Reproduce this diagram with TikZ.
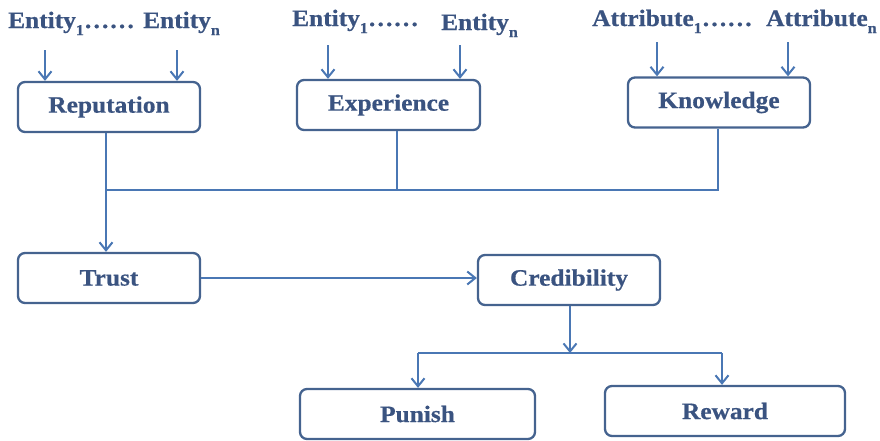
\documentclass[tikz,border=0pt]{standalone}
\usepackage{fontspec}
\setmainfont{Liberation Serif}[FakeStretch=1.08, BoldFeatures={FakeBold=0.6}]
\usetikzlibrary{arrows.meta}
\definecolor{boxline}{HTML}{45638F}
\definecolor{boxtext}{HTML}{3A5380}
\definecolor{wire}{HTML}{4A77B4}
\newcommand{\sbs}[1]{\raisebox{-0.3em}{\fontsize{15}{15}\selectfont #1}}
\tikzset{
  x=1pt, y=-1pt,
  block/.style={draw=boxline, line width=2.3pt, rounded corners=7pt,
    text=boxtext, font=\fontsize{23.5}{26}\selectfont\bfseries,
    minimum height=50pt, inner sep=0pt},
  lbl/.style={text=boxtext, font=\fontsize{23.5}{26}\selectfont\bfseries,
    inner sep=0pt, anchor=base west},
  wireline/.style={draw=wire, line width=2pt},
  arr/.style={wireline, -{Straight Barb[length=8pt,width=13pt,line width=2pt]}},
}
\begin{document}
\begin{tikzpicture}
\useasboundingbox (0,0) rectangle (880,440);

% top labels
\node[lbl] (l1a) at (8,28) {Entity\sbs{1}……};
\node[lbl] (l1b) at (143,28) {Entity\sbs{n}};
\node[lbl] (l2a) at (292,26) {Entity\sbs{1}……};
\node[lbl] (l2b) at (441,30) {Entity\sbs{n}};
\node[lbl] (l3a) at (592,26) {Attribute\sbs{1}……};
\node[lbl] (l3b) at (766,26) {Attribute\sbs{n}};

% boxes
\node[block, minimum width=182pt] (rep)   at (109,107)   {Reputation};
\node[block, minimum width=183pt] (exp)   at (388.5,105) {Experience};
\node[block, minimum width=182pt] (kno)   at (719,102.5) {Knowledge};
\node[block, minimum width=182pt] (trust) at (109,278)   {Trust};
\node[block, minimum width=182pt] (cred)  at (569,280)   {Credibility};
\node[block, minimum width=235pt] (pun)   at (417.5,414) {Punish};
\node[block, minimum width=240pt] (rew)   at (725,411)   {Reward};

% input arrow starts
\coordinate (a1) at (45,50);
\coordinate (a2) at (177,50);
\coordinate (a3) at (328,45);
\coordinate (a4) at (460,45);
\coordinate (a5) at (657,42);
\coordinate (a6) at (788,42);
\foreach \c/\b in {a1/rep,a2/rep,a3/exp,a4/exp,a5/kno,a6/kno}
  \draw[arr] (\c) -- (\c |- \b.north);

% gathering bar
\coordinate (g1) at (106,190);
\coordinate (g2) at (397,190);
\coordinate (g3) at (718,190);
\draw[wireline] (exp.south -| g2) -- (g2);
\draw[wireline] (kno.south -| g3) -- (g3) -- (g1);
\draw[arr] (rep.south -| g1) -- (trust.north -| g1);

% trust to credibility
\draw[arr] (trust.east) -- (cred.west |- trust.east);

% credibility to outcomes
\coordinate (s) at (570,353);
\coordinate (sl) at (418,353);
\coordinate (sr) at (722,353);
\draw[arr] (cred.south -| s) -- (s);
\draw[wireline] (sl) -- (sr);
\draw[arr] (sl) -- (sl |- pun.north);
\draw[arr] (sr) -- (sr |- rew.north);
\end{tikzpicture}
\end{document}
